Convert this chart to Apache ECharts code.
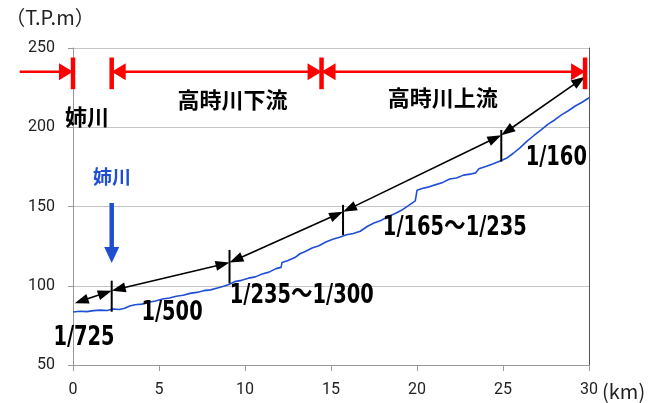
<!DOCTYPE html>
<html><head><meta charset="utf-8">
<script src="https://cdn.jsdelivr.net/npm/echarts@6/dist/echarts.min.js"></script>
<style>html,body{margin:0;padding:0;background:#fff}#c{width:662px;height:403px}</style>
</head><body><div id="c"></div>
<script>
// ---- data ----
const xTicks = [0, 5, 10, 15, 20, 25, 30];
const yTicks = [50, 100, 150, 200, 250];
const profileKm = [0.0,0.4,0.8,1.2,1.6,2.0,2.3,2.7,3.0,3.3,3.6,4.0,4.4,4.8,5.2,5.6,6.0,6.4,6.8,7.2,7.6,8.0,8.4,8.8,9.1,9.4,9.8,10.2,10.6,11.0,11.4,11.8,12.1,12.15,12.5,12.9,13.2,13.5,13.9,14.3,14.7,15.1,15.5,15.9,16.3,16.7,17.1,17.5,17.9,18.3,18.7,19.1,19.5,19.9,20.0,20.3,20.7,21.1,21.5,21.9,22.3,22.7,23.1,23.4,23.6,24.0,24.4,24.8,25.2,25.6,26.0,26.4,26.8,27.2,27.6,28.0,28.4,28.8,29.2,29.6,30.0];
const profileElev = [83.4,83.9,83.7,84.3,84.6,84.4,85.3,85.0,85.8,87.2,88.0,88.4,89.6,90.4,91.6,92.3,93.4,94.0,95.2,95.8,96.9,97.4,98.6,99.8,101.0,102.6,103.4,104.8,105.6,107.4,108.6,110.8,111.6,114.6,116.0,117.8,120.2,121.6,123.8,125.2,127.6,129.4,130.6,132.2,133.0,134.4,137.4,139.6,141.2,143.6,145.4,147.6,150.6,153.6,160.2,161.4,162.4,163.8,165.2,167.4,168.0,169.8,170.4,171.2,173.8,175.2,176.8,178.6,180.4,183.6,187.2,191.2,194.8,198.2,201.8,204.6,207.8,210.4,213.4,215.8,218.6];

const sectionBreaksKm = [0, 2.25, 14.45, 29.77];
const sectionBarElev = [224, 244];
const sectionArrowElev = 235;
// [fromKm, toKm, headAtStart, headAtEnd]
const sectionArrows = [[-3.1, 0, 0, 1], [2.25, 14.45, 1, 1], [14.45, 29.77, 1, 1]];
const sectionNames = ['姉川', '高時川下流', '高時川上流'];
const sectionNamePos = [[0.81, 206.5], [9.28, 217.2], [21.5, 218.5]];

// [fromKm, fromElev, toKm, toElev]
const slopeArrows = [[0.1, 89, 2.25, 96.9], [2.25, 96.9, 9.1, 114.6], [9.1, 114.6, 15.7, 146.7], [15.7, 146.7, 24.9, 195], [24.9, 195, 29.77, 231.9]];
// [km, lowElev, highElev]
const slopeTicks = [[2.25, 83.6, 103.2], [9.1, 101.5, 122.6], [15.7, 132, 151], [24.9, 178.3, 198.3]];
const slopeLabels = ['1/725', '1/500', '1/235～1/300', '1/165～1/235', '1/160'];
const slopeLabelPos = [[0.64, 67], [5.76, 82.8], [13.3, 93.5], [22.2, 136.4], [28.1, 180.6]];

const confluenceName = '姉川';
const confluenceNamePos = [2.27, 168.6];
const confluenceArrow = [[2.25, 152.2, 114.4]];

const xAxisTitle = '(km)';
const xAxisTitlePos = [30.76, 33.6];
const yAxisTitle = '（T.P.m）';

// ---- helpers ----
function arrow(a, b, hs, he, len, wid, color, lw) {
  const dx = b[0] - a[0], dy = b[1] - a[1], d = Math.hypot(dx, dy);
  const ux = dx / d, uy = dy / d, nx = -uy, ny = ux;
  const s = hs ? [a[0] + ux * len * 0.8, a[1] + uy * len * 0.8] : a;
  const e = he ? [b[0] - ux * len * 0.8, b[1] - uy * len * 0.8] : b;
  const ch = [{type: 'line', shape: {x1: s[0], y1: s[1], x2: e[0], y2: e[1]}, style: {stroke: color, lineWidth: lw}}];
  if (hs) {
    const bx = a[0] + ux * len, by = a[1] + uy * len;
    ch.push({type: 'polygon', shape: {points: [a, [bx + nx * wid / 2, by + ny * wid / 2], [bx - nx * wid / 2, by - ny * wid / 2]]}, style: {fill: color}});
  }
  if (he) {
    const bx = b[0] - ux * len, by = b[1] - uy * len;
    ch.push({type: 'polygon', shape: {points: [b, [bx + nx * wid / 2, by + ny * wid / 2], [bx - nx * wid / 2, by - ny * wid / 2]]}, style: {fill: color}});
  }
  return {type: 'group', children: ch};
}

const RED = '#ff0000', BLUE = '#1f4fd0', BLUE_LINE = '#1f4fd6';
const NARROW = "'DejaVu Sans Condensed','Noto Sans CJK JP',sans-serif";
const JP = "'Noto Sans CJK JP',sans-serif";

const chart = echarts.init(document.getElementById('c'), null, {renderer: 'canvas'});
chart.setOption({
  animation: false,
  backgroundColor: '#fff',
  grid: {left: 73, right: 73, top: 48, bottom: 38, containLabel: false},
  xAxis: {
    type: 'value', min: xTicks[0], max: xTicks[xTicks.length - 1], interval: 5,
    axisLine: {show: true, lineStyle: {color: '#999', width: 1}},
    axisTick: {show: true, length: 6, lineStyle: {color: '#999'}},
    axisLabel: {margin: 17, fontFamily: 'Roboto, sans-serif', fontSize: 16, color: '#222'},
    splitLine: {show: false}
  },
  yAxis: [{
    type: 'value', min: yTicks[0], max: yTicks[yTicks.length - 1], interval: 50,
    name: yAxisTitle, nameLocation: 'end', nameGap: 31,
    nameTextStyle: {fontFamily: JP, fontSize: 20, color: '#222', align: 'center', verticalAlign: 'middle', padding: [0, 46, 0, 0]},
    axisLine: {show: true, lineStyle: {color: '#999', width: 1}},
    axisTick: {show: true, length: 5, lineStyle: {color: '#999'}},
    axisLabel: {margin: 18, fontFamily: 'Roboto, sans-serif', fontSize: 16, color: '#222'},
    splitLine: {show: true, lineStyle: {color: '#c4c4c4', width: 1}}
  }, {
    type: 'value', position: 'right', min: yTicks[0], max: yTicks[yTicks.length - 1], interval: 50,
    axisLine: {show: true, lineStyle: {color: '#555', width: 1}},
    axisTick: {show: false}, axisLabel: {show: false}, splitLine: {show: false}
  }],
  series: [
    {
      type: 'line', name: 'profile', z: 3,
      data: profileKm.map((k, i) => [k, profileElev[i]]),
      showSymbol: false, symbol: 'none',
      lineStyle: {color: BLUE_LINE, width: 1.6}
    },
    { // red section arrows
      type: 'custom', z: 5, clip: false, silent: true,
      data: sectionArrows,
      renderItem: (p, api) => {
        const a = api.coord([api.value(0), sectionArrowElev]);
        const b = api.coord([api.value(1), sectionArrowElev]);
        return arrow(a, b, api.value(2), api.value(3), 14, 17, RED, 2.5);
      }
    },
    { // red section bars
      type: 'custom', z: 6, clip: false, silent: true,
      data: sectionBreaksKm.map(k => [k]),
      renderItem: (p, api) => {
        const a = api.coord([api.value(0), sectionBarElev[0]]);
        const b = api.coord([api.value(0), sectionBarElev[1]]);
        return {type: 'line', shape: {x1: a[0], y1: a[1], x2: b[0], y2: b[1]}, style: {stroke: RED, lineWidth: 4.5}};
      }
    },
    { // black slope arrows
      type: 'custom', z: 5, clip: false, silent: true,
      data: slopeArrows,
      renderItem: (p, api) => {
        const a = api.coord([api.value(0), api.value(1)]);
        const b = api.coord([api.value(2), api.value(3)]);
        return arrow(a, b, 1, 1, 14, 10, '#000', 1.6);
      }
    },
    { // black slope change ticks
      type: 'custom', z: 6, clip: false, silent: true,
      data: slopeTicks,
      renderItem: (p, api) => {
        const a = api.coord([api.value(0), api.value(1)]);
        const b = api.coord([api.value(0), api.value(2)]);
        return {type: 'line', shape: {x1: a[0], y1: a[1], x2: b[0], y2: b[1]}, style: {stroke: '#000', lineWidth: 2}};
      }
    },
    { // blue confluence arrow
      type: 'custom', z: 6, clip: false, silent: true,
      data: confluenceArrow,
      renderItem: (p, api) => {
        const a = api.coord([api.value(0), api.value(1)]);
        const b = api.coord([api.value(0), api.value(2)]);
        return arrow(a, b, 0, 1, 16, 15, BLUE, 4.5);
      }
    },
    { // section names
      type: 'custom', z: 7, clip: false, silent: true,
      data: sectionNamePos,
      renderItem: (p, api) => {
        const c = api.coord([api.value(0), api.value(1)]);
        return {type: 'text', x: c[0], y: c[1], style: {text: sectionNames[p.dataIndex], fill: '#000', font: 'bold 22px ' + JP, align: 'center', verticalAlign: 'middle'}};
      }
    },
    { // slope labels
      type: 'custom', z: 7, clip: false, silent: true,
      data: slopeLabelPos,
      renderItem: (p, api) => {
        const c = api.coord([api.value(0), api.value(1)]);
        return {type: 'text', x: c[0], y: c[1], scaleX: 0.8, style: {text: slopeLabels[p.dataIndex], fill: '#000', font: 'bold 27px ' + NARROW, align: 'center', verticalAlign: 'middle'}};
      }
    },
    { // confluence name
      type: 'custom', z: 7, clip: false, silent: true,
      data: [confluenceNamePos],
      renderItem: (p, api) => {
        const c = api.coord([api.value(0), api.value(1)]);
        return {type: 'text', x: c[0], y: c[1], style: {text: confluenceName, fill: BLUE, font: 'bold 19px ' + JP, align: 'center', verticalAlign: 'middle'}};
      }
    },
    { // x axis title
      type: 'custom', z: 7, clip: false, silent: true,
      data: [xAxisTitlePos],
      renderItem: (p, api) => {
        const c = api.coord([api.value(0), api.value(1)]);
        return {type: 'text', x: c[0], y: c[1], style: {text: xAxisTitle, fill: '#222', font: '20px ' + JP, align: 'left', verticalAlign: 'middle'}};
      }
    }
  ]
});
</script></body></html>
